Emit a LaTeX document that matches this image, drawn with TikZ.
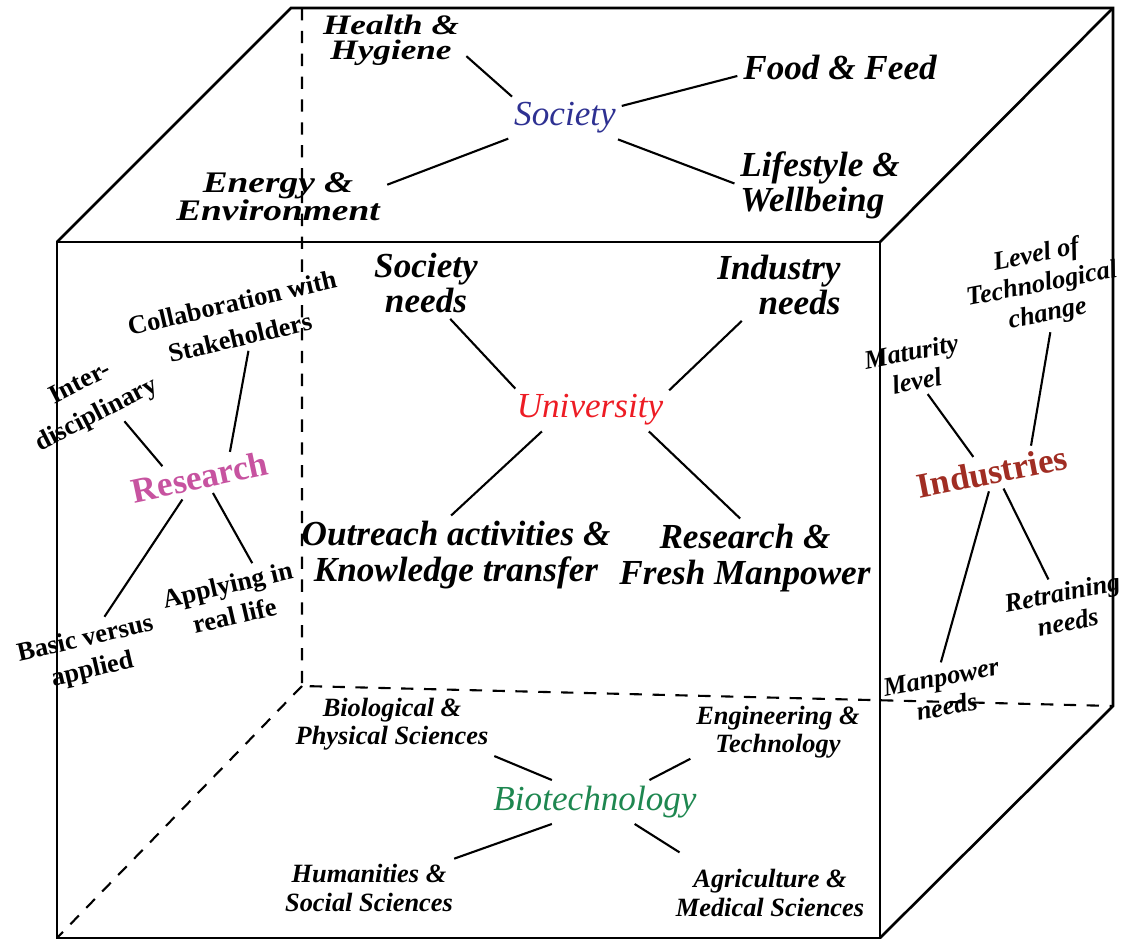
\documentclass[tikz,border=0pt]{standalone}
\usepackage{fontspec}
\setmainfont{Liberation Serif}
\definecolor{socblue}{RGB}{46,49,146}
\definecolor{unired}{RGB}{237,28,36}
\definecolor{respink}{RGB}{199,83,160}
\definecolor{indbrown}{RGB}{160,45,35}
\definecolor{biogreen}{RGB}{30,135,80}

\begin{document}
\begin{tikzpicture}[x=0.01cm, y=-0.01cm,
    cubeline/.style={line width=0.75pt},
    hiddenline/.style={line width=0.6pt, dash pattern=on 3.5pt off 3pt},
    link/.style={line width=0.6pt},
    hub/.style={font=\fontsize{10}{10}\selectfont\itshape, inner sep=1.5pt},
    bighub/.style={font=\fontsize{10}{10}\selectfont\bfseries, inner sep=1.5pt},
    big/.style={font=\fontsize{10}{10}\selectfont\bfseries\itshape, align=center, inner sep=1.5pt},
    minor/.style={font=\fontsize{7.5}{8}\selectfont\bfseries\itshape, align=center, inner sep=1.5pt},
    lefttxt/.style={font=\fontsize{7.5}{9}\selectfont\bfseries, align=center, inner sep=1.5pt},
    righttxt/.style={font=\fontsize{7.5}{8.5}\selectfont\bfseries\itshape, align=center, inner sep=1.5pt, rotate=11}]
  \useasboundingbox (0,0) rectangle (1129,942);

  \coordinate (F1) at (57,242);
  \coordinate (F2) at (880,242);
  \coordinate (F3) at (880,938);
  \coordinate (F4) at (57,938);
  \coordinate (B1) at (291,8);
  \coordinate (B2) at (1113,8);
  \coordinate (B3) at (1113,706);
  \coordinate (B4) at (302,686);
  \coordinate (B5) at (302,8);

  \draw[cubeline] (F1) -- (F2) -- (F3) -- (F4) -- cycle;
  \draw[cubeline] (F1) -- (B1) -- (B2) -- (B3) -- (F3);
  \draw[cubeline] (F2) -- (B2);
  \draw[hiddenline] (B5) -- (B4) -- (B3);
  \draw[hiddenline] (B4) -- (F4);

  % top face
  \node[hub, text=socblue] (soc) at (565,118) {Society};
  \node[big, font=\fontsize{8}{7}\selectfont\bfseries\itshape, xscale=1.25] (hh) at (391,40) {Health \&\\Hygiene};
  \node[big] (food) at (840,67) {Food \& Feed};
  \node[big, align=left] (life) at (820,185) {Lifestyle \&\\Wellbeing};
  \node[big, font=\fontsize{8.5}{8}\selectfont\bfseries\itshape, xscale=1.25] (ee) at (278,197) {Energy \&\\Environment};

  \draw[link] (hh.-15) -- (soc.158);
  \draw[link] (soc.12) -- (food.-175);
  \draw[link] (soc.-22) -- (life.179);
  \draw[link] (soc.-160) -- (ee.8);

  % front face
  \node[hub, text=unired] (uni) at (590,410) {University};
  \node[big] (socn) at (426,283) {Society\\needs};
  \node[big, align=right] (indn) at (779,285) {Industry\\needs};
  \node[big] (out) at (456,555) {Outreach activities \&\\Knowledge transfer};
  \node[big] (rfm) at (745,558) {Research \&\\Fresh Manpower};

  \draw[link] (socn.-56) -- (uni.164);
  \draw[link] (indn.-136) -- (uni.14);
  \draw[link] (uni.-156) -- (out.97);
  \draw[link] (uni.-20) -- (rfm.97);

  % left face
  \node[bighub, text=respink, rotate=12] (res) at (200,477) {Research};
  \node[lefttxt, font=\fontsize{7.5}{10}\selectfont\bfseries, rotate=13] (cs) at (236,320) {Collaboration with\\Stakeholders};
  \node[lefttxt, font=\fontsize{7.5}{10}\selectfont\bfseries, rotate=27] (id) at (89,400) {Inter-\\disciplinary};
  \node[lefttxt, rotate=13] (ap) at (231,600) {Applying in\\real life};
  \node[lefttxt, rotate=13] (bv) at (89,655) {Basic versus\\applied};

  \draw[link] (id.-58) -- (res.152);
  \draw[link] (cs.-81) -- (res.28);
  \draw[link] (res.-140) -- (bv.55);
  \draw[link] (res.-63) -- (ap.47);

  % right face
  \node[bighub, text=indbrown, rotate=11] (ind) at (992,472) {Industries};
  \node[righttxt] (lev) at (1042,285) {Level of\\Technological\\change};
  \node[righttxt] (mat) at (914,366) {Maturity\\level};
  \node[righttxt] (ret) at (1065,607) {Retraining\\needs};
  \node[righttxt] (man) at (944,692) {Manpower\\needs};

  \draw[link] (mat.-75) -- (ind.130);
  \draw[link] (lev.-91) -- (ind.23);
  \draw[link] (ind.-110) -- (man.85);
  \draw[link] (ind.-66) -- (ret.110);

  % bottom face
  \node[hub, text=biogreen] (bio) at (595,802) {Biotechnology};
  \node[minor] (bps) at (392,724) {Biological \&\\Physical Sciences};
  \node[minor] (eng) at (778,732) {Engineering \&\\Technology};
  \node[minor] (hum) at (369,888) {Humanities \&\\Social Sciences};
  \node[minor] (agr) at (770,893) {Agriculture \&\\Medical Sciences};

  \draw[link] (bps.south east) -- (bio.153);
  \draw[link] (eng.-163) -- (bio.22);
  \draw[link] (hum.19) -- (bio.-153);
  \draw[link, shorten <=6pt] (agr.158) -- (bio.-29);
\end{tikzpicture}
\end{document}
